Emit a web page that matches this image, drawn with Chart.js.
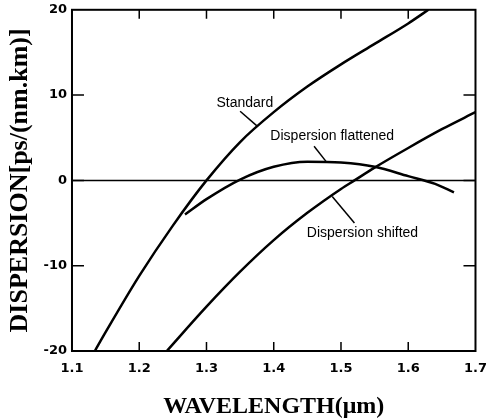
<!DOCTYPE html>
<html>
<head>
<meta charset="utf-8">
<script src="https://cdn.jsdelivr.net/npm/chart.js@4.4.0/dist/chart.umd.min.js"></script>
<style>
  html, body { margin: 0; padding: 0; background: #fff; overflow: hidden; }
  #wrap { width: 497px; height: 421px; margin-top: -3px; }
</style>
</head>
<body>
<div id="wrap"><canvas id="c"></canvas></div>
<script>
// wavelength (um) and dispersion (ps/(nm.km))
const stdX = [1.134, 1.15, 1.2, 1.25, 1.3, 1.35, 1.4, 1.45, 1.5, 1.55, 1.6, 1.63]
const stdY = [-20, -17.8, -11.2, -5.3, 0, 4.5, 8.0, 11.0, 13.6, 16.0, 18.4, 20]

const flatX = [1.268, 1.3, 1.35, 1.4, 1.45, 1.5, 1.55, 1.6, 1.64, 1.668]
const flatY = [-4.0, -2.2, 0.1, 1.6, 2.2, 2.1, 1.6, 0.5, -0.4, -1.4]

const shiftX = [1.241, 1.3, 1.35, 1.4, 1.45, 1.5, 1.52, 1.55, 1.6, 1.65, 1.7]
const shiftY = [-20, -14.8, -10.7, -7.0, -3.8, -1.0, 0, 1.5, 3.8, 6.0, 8.0]

const xTicks = [1.1, 1.2, 1.3, 1.4, 1.5, 1.6, 1.7]
const yTicks = [-20, -10, 0, 10, 20]

// curve labels: text, text anchor, leader line from -> to (data units)
const notes = [
  { text: 'Standard', x: 1.357, y: 9.0, from: [1.350, 8.1], to: [1.375, 6.4] },
  { text: 'Dispersion flattened', x: 1.487, y: 5.2, from: [1.460, 4.0], to: [1.478, 2.2] },
  { text: 'Dispersion shifted', x: 1.532, y: -6.2, from: [1.520, -5.0], to: [1.487, -1.9] }
]

function pts(xs, ys) {
  return xs.map((x, i) => ({ x: x, y: ys[i] }))
}

function line(data) {
  return {
    data: data,
    borderColor: '#000',
    borderWidth: 2.5,
    pointRadius: 0,
    fill: false,
    cubicInterpolationMode: 'monotone'
  }
}

const frame = {
  id: 'frame',
  afterDatasetsDraw(chart) {
    const ctx = chart.ctx
    const a = chart.chartArea
    const xs = chart.scales.x
    const ys = chart.scales.y
    ctx.save()
    ctx.strokeStyle = '#000'
    ctx.lineWidth = 2
    ctx.strokeRect(a.left, a.top, a.right - a.left, a.bottom - a.top)

    // zero line
    const y0 = ys.getPixelForValue(0)
    ctx.lineWidth = 1.5
    ctx.beginPath()
    ctx.moveTo(a.left, y0)
    ctx.lineTo(a.right, y0)
    ctx.stroke()

    // inward ticks
    xTicks.slice(1, -1).forEach(v => {
      const px = xs.getPixelForValue(v)
      ctx.beginPath()
      ctx.moveTo(px, a.bottom)
      ctx.lineTo(px, a.bottom - 9)
      ctx.moveTo(px, a.top)
      ctx.lineTo(px, a.top + 9)
      ctx.stroke()
    })
    yTicks.slice(1, -1).forEach(v => {
      const py = ys.getPixelForValue(v)
      ctx.beginPath()
      ctx.moveTo(a.left, py)
      ctx.lineTo(a.left + 12, py)
      ctx.moveTo(a.right, py)
      ctx.lineTo(a.right - 12, py)
      ctx.stroke()
    })

    // labels with leader lines
    ctx.font = '14px "Liberation Sans", Arial, sans-serif'
    ctx.fillStyle = '#000'
    ctx.textAlign = 'center'
    ctx.textBaseline = 'middle'
    notes.forEach(n => {
      ctx.fillText(n.text, xs.getPixelForValue(n.x), ys.getPixelForValue(n.y))
      ctx.beginPath()
      ctx.moveTo(xs.getPixelForValue(n.from[0]), ys.getPixelForValue(n.from[1]))
      ctx.lineTo(xs.getPixelForValue(n.to[0]), ys.getPixelForValue(n.to[1]))
      ctx.stroke()
    })
    ctx.restore()
  }
}

const tickFont = { family: '"DejaVu Sans", sans-serif', size: 13, weight: 'bold' }
const serif = '"Liberation Serif", "Times New Roman", serif'

new Chart(document.getElementById('c'), {
  type: 'line',
  data: {
    datasets: [line(pts(stdX, stdY)), line(pts(flatX, flatY)), line(pts(shiftX, shiftY))]
  },
  options: {
    responsive: true,
    maintainAspectRatio: false,
    animation: false,
    layout: { padding: { left: 4, right: 0, top: 0, bottom: 0 } },
    plugins: { legend: { display: false }, tooltip: { enabled: false } },
    scales: {
      x: {
        type: 'linear',
        min: 1.1,
        max: 1.7,
        afterBuildTicks: s => { s.ticks = xTicks.map(v => ({ value: v })) },
        grid: { display: false, drawTicks: false },
        border: { display: false },
        ticks: { color: '#000', font: tickFont, padding: 10, maxRotation: 0, callback: v => v.toFixed(1) },
        title: {
          display: true,
          text: 'WAVELENGTH(\u03bcm)',
          color: '#000',
          font: { family: serif, size: 24, weight: 'bold', lineHeight: 1 },
          padding: { top: 8.4, bottom: -1 }
        }
      },
      y: {
        min: -20,
        max: 20,
        afterBuildTicks: s => { s.ticks = yTicks.map(v => ({ value: v })) },
        grid: { display: false, drawTicks: false },
        border: { display: false },
        ticks: { color: '#000', font: tickFont, padding: 5 },
        title: {
          display: true,
          text: 'DISPERSION[ps/(nm.km)]',
          color: '#000',
          font: { family: serif, size: 26, weight: 'bold', lineHeight: 1 },
          padding: { top: 3, bottom: 5.5 }
        }
      }
    }
  },
  plugins: [frame]
})
</script>
</body>
</html>
